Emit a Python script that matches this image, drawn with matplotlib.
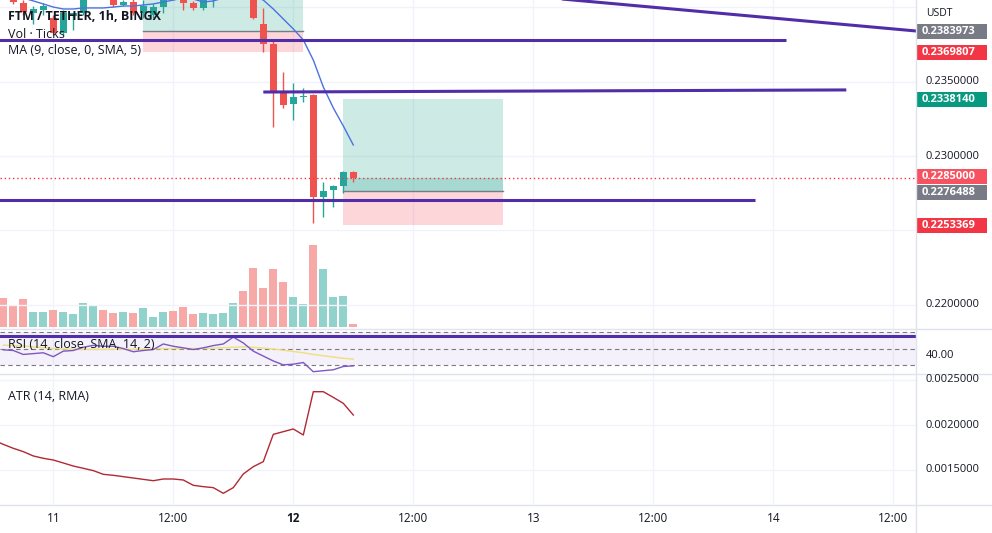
import matplotlib
matplotlib.use("Agg")
import matplotlib.pyplot as plt
from matplotlib.patches import Rectangle
from matplotlib.lines import Line2D

plt.rcParams['font.family'] = ['Open Sans', 'DejaVu Sans']

# ---------------- data (hours since 11th 00:00, 1h candles) ----------------
hours = list(range(-5, 31))
open_ = [0.2410, 0.2407, 0.2403, 0.2396, 0.2398, 0.23928, 0.23827, 0.2394, 0.2396, 0.2407,
         0.2412, 0.2408, 0.24015, 0.24035, 0.2396, 0.23948, 0.2400, 0.2407, 0.2405, 0.24028,
         0.23995, 0.2405, 0.2408, 0.2411, 0.2414, 0.2410, 0.23887, 0.23753, 0.23423, 0.2335,
         0.23397, 0.2341, 0.22724, 0.22771, 0.22798, 0.22893]
high = [0.2413, 0.2409, 0.2405, 0.2401, 0.2403, 0.23948, 0.23981, 0.23961, 0.2410, 0.2414,
        0.2415, 0.2410, 0.2405, 0.2406, 0.2405, 0.2402, 0.2408, 0.2409, 0.2407, 0.2404,
        0.2407, 0.2410, 0.2413, 0.2416, 0.2417, 0.2412, 0.23995, 0.2378, 0.23565, 0.23491,
        0.23457, 0.23417, 0.22825, 0.22805, 0.2290, 0.2290]
low = [0.2406, 0.2402, 0.2395, 0.2389, 0.2395, 0.23813, 0.23813, 0.23847, 0.2395, 0.2406,
       0.2407, 0.2400, 0.2401, 0.2395, 0.23927, 0.2393, 0.2396, 0.2405, 0.23981, 0.2398,
       0.2398, 0.2400, 0.2406, 0.2409, 0.2408, 0.2392, 0.23699, 0.23195, 0.2332, 0.23242,
       0.23363, 0.2255, 0.2259, 0.22657, 0.2275, 0.22826]
close = [0.2408, 0.24035, 0.2397, 0.2399, 0.2401, 0.23827, 0.23961, 0.2396, 0.2407, 0.2412,
         0.2409, 0.24015, 0.24035, 0.23961, 0.2401, 0.24001, 0.2406, 0.2406, 0.24028, 0.23995,
         0.2405, 0.2408, 0.2411, 0.2414, 0.2410, 0.23927, 0.23753, 0.23423, 0.23343, 0.23397,
         0.23403, 0.22724, 0.22765, 0.22798, 0.22893, 0.2285]
volume = [850, 620, 820, 440, 440, 500, 440, 380, 710, 620,
          500, 410, 440, 410, 560, 290, 440, 470, 590, 380,
          410, 380, 410, 710, 1070, 1760, 1160, 1730, 1340, 890,
          680, 2450, 1730, 890, 920, 70]
ma9 = [0.24129, 0.24095, 0.24062, 0.24042, 0.24022, 0.24001, 0.23988, 0.23988, 0.23995, 0.23995,
       0.23995, 0.24001, 0.24008, 0.24008, 0.24015, 0.24022, 0.24035, 0.24048, 0.24062, 0.24055,
       0.24035, 0.24042, 0.24062, 0.24082, 0.24089, 0.24075, 0.24048, 0.23988, 0.23921, 0.23854,
       0.23780, 0.23645, 0.23464, 0.23323, 0.23202, 0.23074]
rsi = [48.5, 47.7, 43.0, 44.0, 45.0, 40.4, 46.9, 47.7, 51.5, 53.8,
       52.7, 52.7, 50.0, 46.2, 47.7, 48.8, 55.4, 52.7, 50.8, 48.8,
       50.8, 53.5, 55.4, 63.5, 56.6, 46.9, 41.1, 35.3, 30.7, 31.5,
       33.5, 22.6, 23.8, 24.9, 28.8, 29.5]
rsi_ma = [54.0, 53.5, 53.0, 52.0, 51.0, 50.0, 49.5, 49.0, 49.0, 49.0,
          49.0, 49.0, 49.0, 49.0, 49.0, 49.5, 50.0, 50.0, 50.0, 50.0,
          50.0, 50.5, 51.0, 51.5, 52.0, 51.5, 50.5, 49.5, 48.0, 46.5,
          45.0, 43.0, 41.5, 40.0, 38.5, 37.5]
atr_hours = list(range(-6, 31))
atr = [0.001833, 0.001785, 0.001741, 0.001704, 0.001656, 0.00163, 0.001611, 0.001578, 0.001544, 0.001519,
       0.001493, 0.001452, 0.001441, 0.001426, 0.001411, 0.001396, 0.001381, 0.0014, 0.0014, 0.001389,
       0.00133, 0.001315, 0.001304, 0.001241, 0.001304, 0.001456, 0.001537, 0.001593, 0.001896, 0.001926,
       0.001956, 0.001889, 0.00237, 0.00237, 0.002307, 0.002241, 0.002111]

time_tick_hours = [0, 12, 24, 36, 48, 60, 72, 84]
time_tick_labels = ["11", "12:00", "12", "12:00", "13", "12:00", "14", "12:00"]
price_ticks = [0.22, 0.225, 0.23, 0.235, 0.24]
price_tick_labels = ["0.2200000", "", "0.2300000", "0.2350000", ""]
atr_ticks = [0.0015, 0.0020, 0.0025]
atr_tick_labels = ["0.0015000", "0.0020000", "0.0025000"]

current_price = 0.2285
# drawings: (start hour, end hour, start price, end price)
trend_lines = [(-6, 73.3, 0.237796, 0.237796),
               (21, 79.3, 0.23430, 0.23444),
               (-6, 70.2, 0.227043, 0.227043),
               (40, 86.3, 0.24121, 0.23840)]
rsi_hline = 65.0
# long positions: (start hour, end hour, entry, stop, target)
positions = [(9, 25, 0.2384, 0.2369807, 0.2420),
             (29, 45, 0.2276488, 0.2253369, 0.2338140)]
axis_labels = [(0.2383973, "0.2383973", "#787b86"),
               (0.2369807, "0.2369807", "#f23645"),
               (0.2338140, "0.2338140", "#089981"),
               (0.2285000, "0.2285000", "#f7525f"),
               (0.2276488, "0.2276488", "#787b86"),
               (0.2253369, "0.2253369", "#f23645")]

# ---------------- figure / layout ----------------
W, H = 992, 533
fig = plt.figure(figsize=(W / 100, H / 100), dpi=100)
fig.patch.set_facecolor("white")
XR = 916


def fax(x0, y0, x1, y1, **kw):
    return fig.add_axes([x0 / W, 1 - y1 / H, (x1 - x0) / W, (y1 - y0) / H], **kw)


UP, DN = "#26a69a", "#ef5350"
VUP, VDN = "#92d2cc", "#f7a9a7"
GRID = "#f0f3fa"
PURPLE = "#512da8"
TXT = "#131722"
xlim = ((0 - 53.3) / 10, (XR - 53.3) / 10)

axv = fax(0, 0, XR, 329)
ax = fax(0, 0, XR, 329, facecolor="none")
axr = fax(0, 329, XR, 374)
axa = fax(0, 374, XR, 505)

for a in (axv, ax, axr, axa):
    a.set_xlim(*xlim)
    for s in a.spines.values():
        s.set_visible(False)
    a.set_xticks([])
    a.set_yticks([])

ax.set_ylim(0.218374, 0.240484)
vmax = max(volume)
axv.set_ylim(-0.0282 * vmax, 4.0 * vmax)
axr.set_ylim(19.9, 73.1)
axa.set_ylim(0.0015 - 35 / 90000, 0.0025 + 6 / 90000)

# grid
for a in (axv, axr, axa):
    for h in time_tick_hours:
        a.axvline(h, color=GRID, lw=1, zorder=0)
for p in price_ticks:
    ax.axhline(p, color=GRID, lw=1, zorder=0)
for p in atr_ticks:
    axa.axhline(p, color=GRID, lw=1, zorder=0)

# volume
vcols = [VUP if c >= o else VDN for o, c in zip(open_, close)]
axv.bar(hours, volume, width=0.8, color=vcols, zorder=1)

# position boxes
for (h0, h1, entry, stop, target) in positions:
    ax.add_patch(Rectangle((h0, entry), h1 - h0, target - entry, fc="#089981", alpha=0.2, ec="none", zorder=1))
    ax.add_patch(Rectangle((h0, stop), h1 - h0, entry - stop, fc="#f23645", alpha=0.2, ec="none", zorder=1))
    ax.plot([h0, h1], [entry, entry], color="#787b86", lw=1, zorder=2)
h0, h1, entry, stop, target = positions[1]
ax.add_patch(Rectangle((h0, entry), h1 - h0, current_price - entry, fc="#089981", alpha=0.2, ec="none", zorder=1))

# candles
for h, o, hi, lo, c in zip(hours, open_, high, low, close):
    col = UP if c >= o else DN
    ax.vlines(h, lo, hi, color=col, lw=1, zorder=3)
    ax.bar(h, max(abs(c - o), 0.00003), bottom=min(o, c), width=0.7, color=col, zorder=3)

# MA
ax.plot(hours, ma9, color="#4a72e0", lw=1, zorder=4)

# drawings
for (a0, a1, p0, p1) in trend_lines:
    ax.plot([a0, a1], [p0, p1], color=PURPLE, lw=2.2, zorder=5, solid_capstyle="butt")
ax.axhline(current_price, color="#f23645", lw=1, ls=(0, (1, 2)), zorder=5)

# RSI pane
axr.axhspan(30, 70, color="#7e57c2", alpha=0.08, lw=0, zorder=0)
for lv in (70, 50, 30):
    axr.axhline(lv, color="#787b86", lw=0.8, ls=(0, (4, 3)), zorder=1)
axr.plot(hours, rsi_ma, color="#efe07a", lw=1, zorder=2)
axr.plot(hours, rsi, color="#7e57c2", lw=1, zorder=3)
axr.axhline(rsi_hline, color=PURPLE, lw=2.2, zorder=4)

# ATR pane
axa.plot(atr_hours, atr, color="#b22833", lw=1, zorder=2)

# ---------------- separators ----------------
for yy in (329, 374, 505):
    fig.add_artist(Line2D([0, 1], [1 - yy / H, 1 - yy / H], transform=fig.transFigure, color="#e0e3eb", lw=1))
fig.add_artist(Line2D([XR / W, XR / W], [0, 1], transform=fig.transFigure, color="#e0e3eb", lw=1))

# ---------------- texts ----------------
def ftxt(x, y, s, **kw):
    fig.text(x / W, 1 - y / H, s, va="center", **kw)


def ypx(a, v):
    return H - a.transData.transform((0, v))[1]


ftxt(8, 17, "FTM / TETHER, 1h, BINGX", fontsize=9, fontweight="bold", color=TXT)
ftxt(8, 34, "Vol · Ticks", fontsize=9, color=TXT)
ftxt(8, 51, "MA (9, close, 0, SMA, 5)", fontsize=9, color=TXT)
ftxt(8, 344, "RSI (14, close, SMA, 14, 2)", fontsize=9, color=TXT)
ftxt(8, 396, "ATR (14, RMA)", fontsize=9, color=TXT)

for h, lab in zip(time_tick_hours, time_tick_labels):
    x = ax.transData.transform((h, 0))[0]
    fig.text(x / W, 1 - 519 / H, lab, ha="center", va="center", fontsize=8.5, color=TXT,
             fontweight="bold" if lab == "12" else "normal")

ftxt(926, 13, "USDT", fontsize=7.5, color=TXT)
for p, lab in zip(price_ticks, price_tick_labels):
    if lab:
        ftxt(926, ypx(ax, p), lab, fontsize=8, color=TXT)
for p, lab in zip(atr_ticks, atr_tick_labels):
    ftxt(926, ypx(axa, p), lab, fontsize=8, color=TXT)
ftxt(926, 356, "40.00", fontsize=8, color=TXT)

# coloured price labels with simple collision avoidance
ys = [ypx(ax, p) for p, _, _ in axis_labels]
for i in range(len(ys) - 1):
    gap = ys[i + 1] - ys[i]
    if gap < 16:
        d = (16 - gap) / 2
        ys[i] -= d
        ys[i + 1] += d
for (p, lab, col), y in zip(axis_labels, ys):
    fig.add_artist(Rectangle((917 / W, 1 - (y + 7.5) / H), 70 / W, 15 / H, transform=fig.transFigure,
                             fc=col, ec="none"))
    ftxt(922, y, lab, fontsize=8, color="white", fontweight="bold")

fig.savefig("out.png", dpi=100, facecolor="white")
